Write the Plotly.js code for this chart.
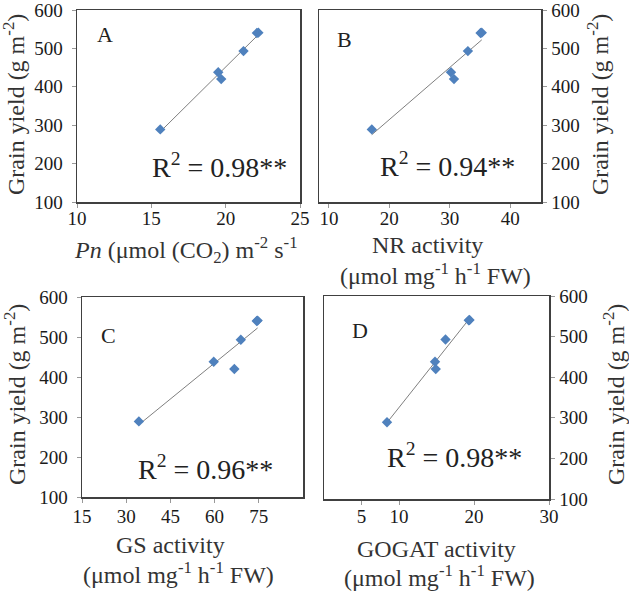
<!DOCTYPE html>
<html>
<head>
<meta charset="utf-8">
<script src="https://cdn.plot.ly/plotly-3.0.1.min.js"></script>
<style>html,body{margin:0;padding:0;background:#fff;}#chart{width:629px;height:593px;}</style>
</head>
<body>
<div id="chart"></div>
<script>
// ---- data ----
const grainYield = [289, 438, 420, 493, 540, 541];      // g m-2 (same plants in every panel)
const pnValues   = [15.6, 19.5, 19.7, 21.2, 22.1, 22.2]; // Pn
const nrValues   = [17.1, 30.2, 30.7, 33.0, 35.1, 35.3]; // NR activity
const gsValues   = [34.3, 59.7, 66.7, 68.9, 74.3, 74.6]; // GS activity
const gogatValues= [8.4, 14.8, 14.9, 16.2, 19.3, 19.4];  // GOGAT activity

const panelLetters = ['A', 'B', 'C', 'D'];
const r2Labels = ['R<sup>2</sup> = 0.98**', 'R<sup>2</sup> = 0.94**', 'R<sup>2</sup> = 0.96**', 'R<sup>2</sup> = 0.98**'];
const yTickVals = [100, 200, 300, 400, 500, 600];
const xTicksA = [10, 15, 20, 25];
const xTicksB = [10, 20, 30, 40];
const xTicksC = [15, 30, 45, 60, 75];
const xTicksD = [5, 10, 20, 30];
const yTitle = 'Grain yield (g m<sup>-2</sup>)';
const xTitleLines = [
  ['<i>Pn</i> (μmol (CO<sub>2</sub>) m<sup>-2</sup> s<sup>-1</sup>'],
  ['NR activity', '(μmol mg<sup>-1</sup> h<sup>-1</sup> FW)'],
  ['GS activity', '(μmol mg<sup>-1</sup> h<sup>-1</sup> FW)'],
  ['GOGAT activity', '(μmol mg<sup>-1</sup> h<sup>-1</sup> FW)']
];

// ---- helpers ----
function fit(xs, ys) {
  const n = xs.length;
  const mx = xs.reduce((a, b) => a + b, 0) / n;
  const my = ys.reduce((a, b) => a + b, 0) / n;
  let sxy = 0, sxx = 0;
  for (let i = 0; i < n; i++) { sxy += (xs[i] - mx) * (ys[i] - my); sxx += (xs[i] - mx) ** 2; }
  const b = sxy / sxx, a = my - b * mx;
  const x0 = Math.min(...xs), x1 = Math.max(...xs);
  return { x: [x0, x1], y: [a + b * x0, a + b * x1] };
}

const xSets = [pnValues, nrValues, gsValues, gogatValues];
const axisIds = [['x', 'y'], ['x2', 'y2'], ['x3', 'y3'], ['x4', 'y4']];
const traces = [];
xSets.forEach((xs, i) => {
  const f = fit(xs, grainYield);
  traces.push({ type: 'scatter', mode: 'lines', x: f.x, y: f.y, xaxis: axisIds[i][0], yaxis: axisIds[i][1],
    line: { color: '#7f7f7f', width: 1 }, hoverinfo: 'skip' });
  traces.push({ type: 'scatter', mode: 'markers', x: xs, y: grainYield, xaxis: axisIds[i][0], yaxis: axisIds[i][1],
    marker: { symbol: 'diamond', size: 8, color: '#4f81bd' } });
});

const W = 629, H = 593;
const FONT = 'Liberation Serif';
const common = {
  showline: true, mirror: true, linecolor: '#404040', linewidth: 1.5,
  showgrid: false, zeroline: false, ticks: 'outside', ticklen: 4, tickcolor: '#999',
  ticklabeloverflow: 'allow',
  tickfont: { family: FONT, size: 19, color: '#1a1a1a' }
};
function xa(domPx, range, ticks, anchor, standoff) {
  return Object.assign({}, common, { domain: [domPx[0] / W, domPx[1] / W], range: range, tickvals: ticks,
    anchor: anchor, ticklabelstandoff: standoff });
}
function ya(domPx, side, anchor) {
  return Object.assign({}, common, { domain: [1 - domPx[1] / H, 1 - domPx[0] / H], range: [100, 600], tickvals: yTickVals,
    side: side, anchor: anchor, ticklabelstandoff: side === 'left' ? 5 : 1 });
}

const layout = {
  width: W, height: H, margin: { l: 0, r: 0, t: 0, b: 0 },
  paper_bgcolor: '#fff', plot_bgcolor: '#fff', showlegend: false,
  font: { family: FONT, color: '#222' },
  xaxis:  xa([77, 300], [10, 25], xTicksA, 'y', -5),
  yaxis:  ya([10, 202], 'left', 'x'),
  xaxis2: xa([319, 541], [8.36, 45.1], xTicksB, 'y2', -5),
  yaxis2: ya([10, 202], 'right', 'x2'),
  xaxis3: xa([82, 303], [15, 90], xTicksC, 'y3', -2),
  yaxis3: ya([297, 497], 'left', 'x3'),
  xaxis4: xa([324, 549], [0, 30], xTicksD, 'y4', -4),
  yaxis4: ya([296, 499], 'right', 'x4'),
  annotations: []
};

const letterPos = [[0.126, 0.87], [0.117, 0.845], [0.122, 0.81], [0.16, 0.828]];
const r2Pos = [[0.639, 0.19], [0.581, 0.195], [0.561, 0.15], [0.578, 0.215]];
const refs = [['x domain', 'y domain'], ['x2 domain', 'y2 domain'], ['x3 domain', 'y3 domain'], ['x4 domain', 'y4 domain']];
for (let i = 0; i < 4; i++) {
  layout.annotations.push({ xref: refs[i][0], yref: refs[i][1], x: letterPos[i][0], y: letterPos[i][1],
    text: panelLetters[i], showarrow: false, font: { family: FONT, size: 22, color: '#222' }, xanchor: 'center', yanchor: 'middle' });
  layout.annotations.push({ xref: refs[i][0], yref: refs[i][1], x: r2Pos[i][0], y: r2Pos[i][1],
    text: r2Labels[i], showarrow: false, font: { family: FONT, size: 28, color: '#222' }, xanchor: 'center', yanchor: 'middle' });
}
// axis titles (paper pixel positions)
const xTitlePos = [[[186, 250]], [[427, 245], [435, 274]], [[170, 545], [178, 573]], [[436, 549], [439, 576]]];
const yTitlePos = [[14, 105], [598, 105], [15, 395], [614, 395]];
for (let i = 0; i < 4; i++) {
  xTitleLines[i].forEach((t, j) => {
    layout.annotations.push({ xref: 'paper', yref: 'paper', x: xTitlePos[i][j][0] / W, y: 1 - xTitlePos[i][j][1] / H,
      text: t, showarrow: false, font: { family: FONT, size: 24, color: '#333' }, xanchor: 'center', yanchor: 'middle' });
  });
  layout.annotations.push({ xref: 'paper', yref: 'paper', x: yTitlePos[i][0] / W, y: 1 - yTitlePos[i][1] / H,
    text: yTitle, textangle: -90, showarrow: false, font: { family: FONT, size: 24, color: '#333' }, xanchor: 'center', yanchor: 'middle' });
}

Plotly.newPlot('chart', traces, layout, { staticPlot: true, displayModeBar: false });
</script>
</body>
</html>
